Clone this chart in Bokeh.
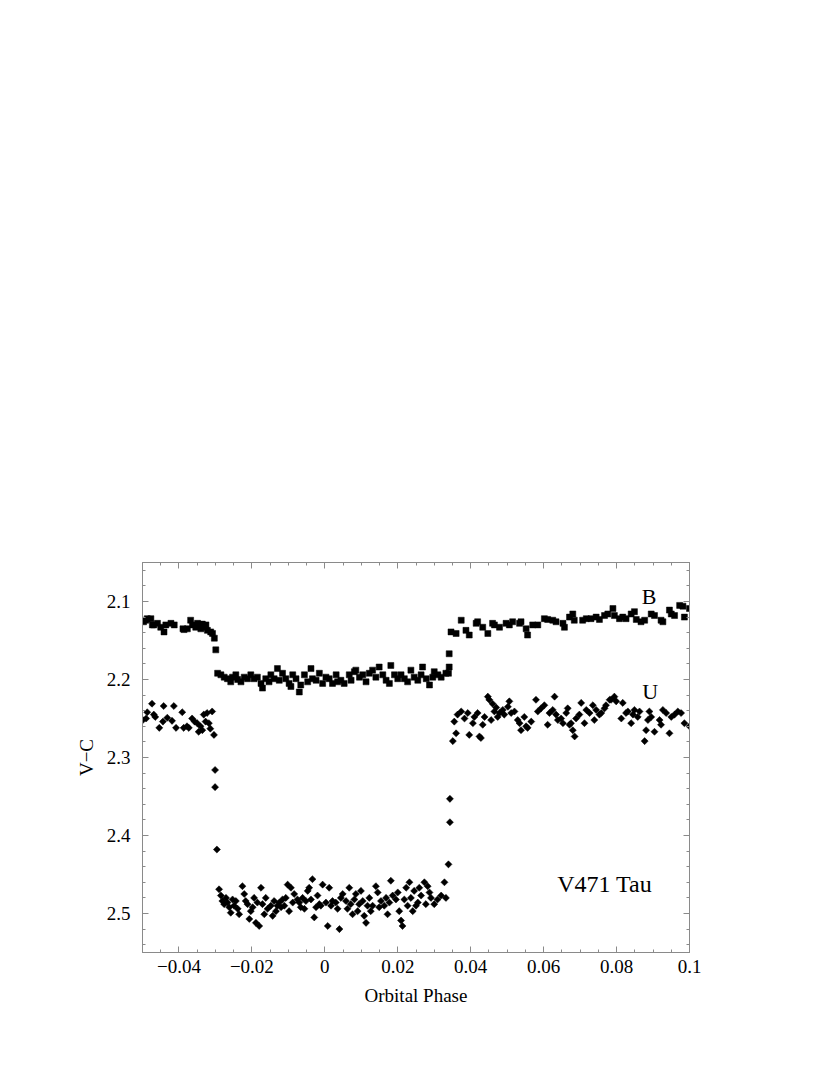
from bokeh.plotting import figure
from bokeh.models import (Range1d, LinearAxis, SingleIntervalTicker, CustomJSTickFormatter,
                          Label, ColumnDataSource)
from bokeh.embed import file_html
from bokeh.resources import INLINE

# ---------------- data ----------------
b_phase = [
    -0.0497, -0.0491, -0.0487, -0.0477, -0.0473, -0.0469, -0.0459, -0.0450, -0.0441, -0.0436,
    -0.0422, -0.0413, -0.0389, -0.0386, -0.0377, -0.0368, -0.0363, -0.0354, -0.0349, -0.0344,
    -0.0340, -0.0336, -0.0330, -0.0326, -0.0322, -0.0313, -0.0308, -0.0303, -0.0299,
    -0.0294, -0.0285, -0.0276, -0.0267, -0.0258, -0.0253, -0.0244, -0.0239, -0.0230, -0.0221,
    -0.0212, -0.0203, -0.0194, -0.0185, -0.0175, -0.0171, -0.0162, -0.0153, -0.0148, -0.0139,
    -0.0130, -0.0125, -0.0116, -0.0107, -0.0098, -0.0093, -0.0088, -0.0079, -0.0070, -0.0066,
    -0.0056, -0.0047, -0.0038, -0.0034, -0.0024, -0.0015, -0.0006, 0.0003, 0.0012, 0.0021,
    0.0031, 0.0035, 0.0044, 0.0053, 0.0067, 0.0072, 0.0081, 0.0085, 0.0095, 0.0104,
    0.0113, 0.0122, 0.0131, 0.0140, 0.0149, 0.0159, 0.0168, 0.0177, 0.0181, 0.0191,
    0.0200, 0.0209, 0.0218, 0.0227, 0.0236, 0.0245, 0.0255, 0.0264, 0.0268, 0.0278,
    0.0287, 0.0296, 0.0300, 0.0310, 0.0319, 0.0332,
    0.0339, 0.0341, 0.0341,
    0.0346, 0.0360, 0.0374, 0.0387, 0.0396, 0.0415, 0.0419, 0.0433, 0.0447, 0.0460,
    0.0465, 0.0479, 0.0497, 0.0506, 0.0515, 0.0534, 0.0538, 0.0552, 0.0556, 0.0570,
    0.0584, 0.0602, 0.0611, 0.0625, 0.0634, 0.0653, 0.0657, 0.0671, 0.0680, 0.0684,
    0.0707, 0.0717, 0.0730, 0.0744, 0.0753, 0.0767, 0.0776, 0.0790, 0.0794, 0.0808,
    0.0817, 0.0826, 0.0840, 0.0849, 0.0854, 0.0867, 0.0877, 0.0895, 0.0904, 0.0922,
    0.0927, 0.0945, 0.0950, 0.0959, 0.0973, 0.0982, 0.0986, 0.1000,
]
b_vc = [
    2.126, 2.124, 2.122, 2.122, 2.130, 2.130, 2.128, 2.133, 2.139, 2.130,
    2.128, 2.130, 2.135, 2.136, 2.135, 2.124, 2.130, 2.133, 2.128, 2.131,
    2.135, 2.129, 2.133, 2.130, 2.137, 2.139, 2.141, 2.147, 2.162,
    2.192, 2.194, 2.197, 2.199, 2.203, 2.197, 2.194, 2.200, 2.203, 2.197,
    2.199, 2.194, 2.199, 2.197, 2.205, 2.211, 2.199, 2.203, 2.194, 2.199,
    2.186, 2.201, 2.192, 2.199, 2.205, 2.209, 2.194, 2.199, 2.216, 2.207,
    2.194, 2.203, 2.186, 2.199, 2.201, 2.192, 2.205, 2.197, 2.199, 2.205,
    2.194, 2.203, 2.201, 2.205, 2.194, 2.201, 2.190, 2.188, 2.197, 2.194,
    2.203, 2.192, 2.188, 2.197, 2.184, 2.194, 2.201, 2.205, 2.182, 2.194,
    2.199, 2.194, 2.199, 2.203, 2.188, 2.197, 2.201, 2.194, 2.184, 2.199,
    2.207, 2.197, 2.190, 2.194, 2.197, 2.192,
    2.192, 2.184, 2.167,
    2.139, 2.141, 2.124, 2.137, 2.143, 2.128, 2.126, 2.133, 2.141, 2.128,
    2.130, 2.133, 2.128, 2.130, 2.126, 2.128, 2.126, 2.135, 2.143, 2.130,
    2.130, 2.122, 2.123, 2.124, 2.126, 2.128, 2.133, 2.120, 2.116, 2.124,
    2.124, 2.122, 2.122, 2.120, 2.123, 2.118, 2.116, 2.109, 2.118, 2.122,
    2.120, 2.122, 2.116, 2.113, 2.123, 2.126, 2.124, 2.116, 2.118, 2.124,
    2.126, 2.111, 2.116, 2.118, 2.105, 2.106, 2.120, 2.109,
]

u_phase = [
    -0.0499, -0.0490, -0.0487, -0.0474, -0.0469, -0.0465, -0.0454, -0.0444, -0.0442, -0.0432,
    -0.0419, -0.0414, -0.0408, -0.0391, -0.0387, -0.0378, -0.0373, -0.0364, -0.0357, -0.0350,
    -0.0346, -0.0341, -0.0336, -0.0332, -0.0327, -0.0323, -0.0318, -0.0314, -0.0309, -0.0304,
    -0.0301, -0.0301, -0.0296,
    -0.0290, -0.0285, -0.0281, -0.0276, -0.0271, -0.0267, -0.0262, -0.0258, -0.0253, -0.0249,
    -0.0244, -0.0239, -0.0235, -0.0226, -0.0221, -0.0217, -0.0212, -0.0207, -0.0203, -0.0198,
    -0.0194, -0.0189, -0.0185, -0.0180, -0.0175, -0.0171, -0.0166, -0.0162, -0.0157, -0.0148,
    -0.0143, -0.0139, -0.0134, -0.0130, -0.0125, -0.0120, -0.0116, -0.0111, -0.0107, -0.0102,
    -0.0098, -0.0093, -0.0088, -0.0084, -0.0075, -0.0070, -0.0066, -0.0061, -0.0056, -0.0052,
    -0.0047, -0.0043, -0.0038, -0.0034, -0.0029, -0.0024, -0.0020, -0.0015, -0.0011, -0.0006,
    0.0003, 0.0008, 0.0012, 0.0017, 0.0021, 0.0030, 0.0035, 0.0040, 0.0044, 0.0049,
    0.0058, 0.0062, 0.0067, 0.0071, 0.0076, 0.0081, 0.0085, 0.0090, 0.0094, 0.0099,
    0.0104, 0.0108, 0.0113, 0.0117, 0.0122, 0.0126, 0.0131, 0.0140, 0.0145, 0.0149,
    0.0154, 0.0163, 0.0168, 0.0172, 0.0177, 0.0181, 0.0186, 0.0195, 0.0200, 0.0204,
    0.0209, 0.0213, 0.0218, 0.0223, 0.0227, 0.0232, 0.0236, 0.0241, 0.0245, 0.0250,
    0.0255, 0.0259, 0.0264, 0.0273, 0.0277, 0.0282, 0.0287, 0.0291, 0.0300, 0.0309,
    0.0319, 0.0328, 0.0332,
    0.0339, 0.0343, 0.0343,
    0.0351, 0.0355, 0.0360, 0.0364, 0.0374, 0.0383, 0.0392, 0.0396, 0.0406, 0.0410,
    0.0419, 0.0424, 0.0428, 0.0433, 0.0438, 0.0447, 0.0451, 0.0456, 0.0460, 0.0465,
    0.0470, 0.0474, 0.0479, 0.0488, 0.0492, 0.0502, 0.0506, 0.0511, 0.0520, 0.0529,
    0.0534, 0.0538, 0.0547, 0.0552, 0.0556, 0.0566, 0.0579, 0.0584, 0.0593, 0.0602,
    0.0611, 0.0616, 0.0625, 0.0630, 0.0634, 0.0639, 0.0648, 0.0653, 0.0662, 0.0666,
    0.0671, 0.0675, 0.0680, 0.0685, 0.0689, 0.0698, 0.0703, 0.0712, 0.0717, 0.0726,
    0.0735, 0.0739, 0.0744, 0.0753, 0.0758, 0.0767, 0.0771, 0.0781, 0.0785, 0.0794,
    0.0799, 0.0813, 0.0817, 0.0826, 0.0831, 0.0840, 0.0845, 0.0849, 0.0858, 0.0863,
    0.0877, 0.0881, 0.0886, 0.0890, 0.0895, 0.0904, 0.0918, 0.0922, 0.0927, 0.0936,
    0.0945, 0.0950, 0.0959, 0.0968, 0.0977, 0.0986, 0.1000,
]
u_vc = [
    2.252, 2.250, 2.242, 2.231, 2.245, 2.248, 2.262, 2.254, 2.234, 2.249,
    2.253, 2.234, 2.262, 2.242, 2.262, 2.260, 2.262, 2.250, 2.254, 2.256,
    2.267, 2.260, 2.265, 2.245, 2.254, 2.243, 2.256, 2.263, 2.241, 2.271,
    2.316, 2.338, 2.418,
    2.469, 2.477, 2.484, 2.488, 2.480, 2.486, 2.492, 2.499, 2.482, 2.490,
    2.484, 2.494, 2.501, 2.465, 2.475, 2.484, 2.488, 2.507, 2.497, 2.492,
    2.480, 2.512, 2.486, 2.516, 2.467, 2.488, 2.501, 2.480, 2.494, 2.490,
    2.503, 2.484, 2.497, 2.490, 2.486, 2.492, 2.482, 2.490, 2.480, 2.463,
    2.497, 2.467, 2.486, 2.475, 2.482, 2.486, 2.492, 2.480, 2.494, 2.484,
    2.471, 2.467, 2.482, 2.456, 2.505, 2.492, 2.477, 2.488, 2.490, 2.463,
    2.486, 2.516, 2.467, 2.490, 2.484, 2.486, 2.494, 2.520, 2.480, 2.475,
    2.484, 2.494, 2.467, 2.488, 2.501, 2.482, 2.475, 2.497, 2.488, 2.471,
    2.484, 2.503, 2.512, 2.490, 2.480, 2.497, 2.490, 2.465, 2.473, 2.492,
    2.484, 2.490, 2.480, 2.501, 2.486, 2.458, 2.477, 2.482, 2.473, 2.497,
    2.509, 2.516, 2.482, 2.467, 2.490, 2.460, 2.480, 2.497, 2.471, 2.490,
    2.486, 2.467, 2.477, 2.460, 2.488, 2.465, 2.473, 2.480, 2.488, 2.482,
    2.477, 2.460, 2.480,
    2.437, 2.383, 2.353,
    2.279, 2.254, 2.269, 2.245, 2.241, 2.250, 2.243, 2.271, 2.256, 2.248,
    2.243, 2.273, 2.275, 2.258, 2.248, 2.222, 2.226, 2.252, 2.231, 2.241,
    2.236, 2.248, 2.243, 2.239, 2.245, 2.235, 2.228, 2.243, 2.241, 2.252,
    2.256, 2.265, 2.248, 2.260, 2.262, 2.254, 2.226, 2.241, 2.237, 2.233,
    2.258, 2.243, 2.239, 2.222, 2.245, 2.252, 2.250, 2.256, 2.243, 2.237,
    2.258, 2.256, 2.265, 2.273, 2.250, 2.245, 2.230, 2.256, 2.239, 2.243,
    2.233, 2.252, 2.239, 2.245, 2.243, 2.237, 2.233, 2.226, 2.226, 2.222,
    2.228, 2.250, 2.230, 2.243, 2.241, 2.256, 2.245, 2.239, 2.248, 2.241,
    2.279, 2.265, 2.252, 2.241, 2.248, 2.267, 2.252, 2.258, 2.239, 2.243,
    2.269, 2.248, 2.245, 2.241, 2.243, 2.256, 2.260,
]

series_labels = ["B", "U"]
star_name = "V471 Tau"
x_title = "Orbital Phase"
y_title = "V\u2212C"

FONT = "Liberation Serif"
GRAY = "#8a8a8a"

p = figure(
    output_backend="svg", toolbar_location=None,
    frame_width=547, frame_height=390,
    min_border_left=142, min_border_top=562, min_border_right=22, min_border_bottom=70,
    x_range=Range1d(-0.05, 0.1), y_range=Range1d(2.55, 2.05),
    x_axis_location=None, y_axis_location=None,
    background_fill_color="white", border_fill_color="white",
)
p.grid.visible = False
p.outline_line_color = GRAY
p.outline_line_width = 1

def make_x_ticker():
    return SingleIntervalTicker(interval=0.02, num_minor_ticks=4)

def make_y_ticker():
    return SingleIntervalTicker(interval=0.1, num_minor_ticks=5)

x_fmt = CustomJSTickFormatter(code="""
    let s = tick.toFixed(2).replace(/0+$/, '').replace(/\\.$/, '');
    if (s === '-0') s = '0';
    return s.replace('-', '\\u2212');
""")
y_fmt = CustomJSTickFormatter(code="return tick.toFixed(1);")
blank_fmt = CustomJSTickFormatter(code="return '';")

def style(ax):
    ax.axis_line_color = GRAY
    ax.major_tick_line_color = GRAY
    ax.minor_tick_line_color = GRAY
    ax.major_tick_in = 6
    ax.major_tick_out = 0
    ax.minor_tick_in = 3
    ax.minor_tick_out = 0
    ax.major_label_text_font = FONT
    ax.major_label_text_font_size = "19px"
    ax.major_label_text_color = "black"
    ax.axis_label_text_font = FONT
    ax.axis_label_text_font_size = "19px"
    ax.axis_label_text_font_style = "normal"
    ax.axis_label_text_color = "black"

xb = LinearAxis(ticker=make_x_ticker(), formatter=x_fmt, axis_label=x_title)
style(xb)
xb.major_label_standoff = 7
xb.axis_label_standoff = 9
p.add_layout(xb, "below")

yl = LinearAxis(ticker=make_y_ticker(), formatter=y_fmt, axis_label=y_title)
style(yl)
yl.major_label_standoff = 12
yl.axis_label_standoff = 7
p.add_layout(yl, "left")

xt = LinearAxis(ticker=make_x_ticker(), formatter=blank_fmt)
style(xt)
xt.major_label_standoff = 0
p.add_layout(xt, "above")

yr = LinearAxis(ticker=make_y_ticker(), formatter=blank_fmt)
style(yr)
yr.major_label_standoff = 0
p.add_layout(yr, "right")

src_b = ColumnDataSource(dict(x=b_phase, y=b_vc))
src_u = ColumnDataSource(dict(x=u_phase, y=u_vc))

p.scatter("x", "y", source=src_b, marker="square", size=6,
          fill_color="black", line_color="black", line_width=0.5)
p.scatter("x", "y", source=src_u, marker="square", size=5, angle=0.7854,
          fill_color="black", line_color="black", line_width=0.5)

p.add_layout(Label(x=0.0889, y=2.0934, text=series_labels[0], text_font=FONT,
                   text_font_size="22px", text_align="center", text_baseline="middle",
                   text_color="black"))
p.add_layout(Label(x=0.0892, y=2.2148, text=series_labels[1], text_font=FONT,
                   text_font_size="22px", text_align="center", text_baseline="middle",
                   text_color="black"))
p.add_layout(Label(x=0.0637, y=2.4625, text=star_name, text_font=FONT,
                   text_font_size="24px", text_align="left", text_baseline="middle",
                   text_color="black"))

open("out.html", "w").write(file_html(p, INLINE))
